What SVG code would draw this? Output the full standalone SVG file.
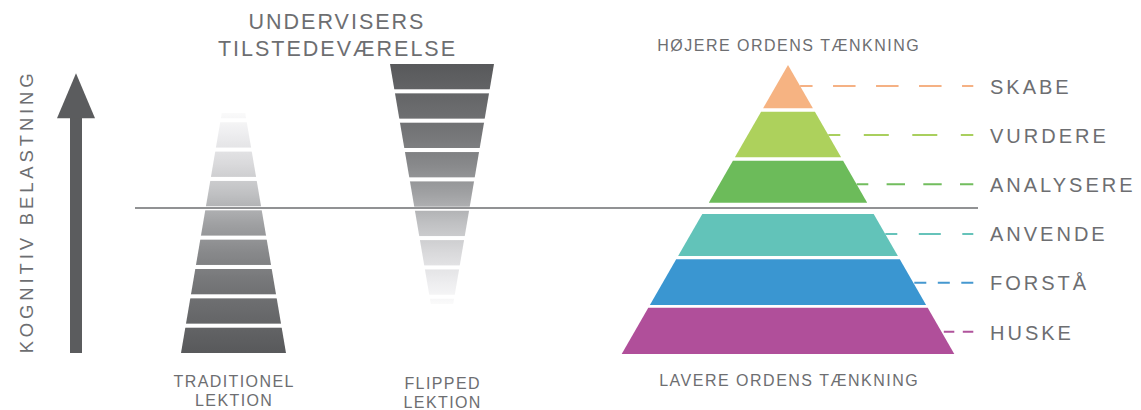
<svg xmlns="http://www.w3.org/2000/svg" width="1141" height="410" viewBox="0 0 1141 410">
  <style>
    text { font-family: "Liberation Sans", Arial, sans-serif; fill: #6d6e71; }
    .title { font-size: 21.5px; letter-spacing: 2px; text-anchor: middle; }
    .axis-label { font-size: 18.5px; letter-spacing: 3.85px; text-anchor: middle; }
    .cap { font-size: 16px; letter-spacing: 1.4px; text-anchor: middle; }
    .level { font-size: 20px; letter-spacing: 3px; }
    .dash { fill: none; stroke-width: 2; }
  </style>
  <defs>
    <!-- gray ramps: dark at the wide end, fading to white at the narrow end -->
    <linearGradient id="fadeUp" gradientUnits="userSpaceOnUse" x1="0" y1="353" x2="0" y2="113">
      <stop offset="0" stop-color="#58595b"/>
      <stop offset="0.175" stop-color="#696a6c"/>
      <stop offset="0.3" stop-color="#767779"/>
      <stop offset="0.42" stop-color="#88898b"/>
      <stop offset="0.54" stop-color="#a0a1a3"/>
      <stop offset="0.66" stop-color="#bfc0c2"/>
      <stop offset="0.79" stop-color="#dadadc"/>
      <stop offset="0.91" stop-color="#ededef"/>
      <stop offset="1" stop-color="#fafafa"/>
    </linearGradient>
    <linearGradient id="fadeDown" gradientUnits="userSpaceOnUse" x1="0" y1="64" x2="0" y2="304">
      <stop offset="0" stop-color="#58595b"/>
      <stop offset="0.175" stop-color="#696a6c"/>
      <stop offset="0.3" stop-color="#767779"/>
      <stop offset="0.42" stop-color="#88898b"/>
      <stop offset="0.54" stop-color="#a0a1a3"/>
      <stop offset="0.66" stop-color="#bfc0c2"/>
      <stop offset="0.79" stop-color="#dadadc"/>
      <stop offset="0.91" stop-color="#ededef"/>
      <stop offset="1" stop-color="#fafafa"/>
    </linearGradient>
    <clipPath id="tradShape">
      <polygon points="181,353 286,353 245.2,113 221.8,113"/>
    </clipPath>
    <clipPath id="flipShape">
      <polygon points="390,64 494,64 453.2,304 430.8,304"/>
    </clipPath>
  </defs>

  <rect width="1141" height="410" fill="#ffffff"/>

  <!-- vertical axis: cognitive load -->
  <g id="axis">
    <rect x="70" y="117" width="12" height="236" fill="#5b5c5e"/>
    <polygon points="57,118.3 76,73.3 95,118.3" fill="#5b5c5e"/>
    <text class="axis-label" transform="translate(33.3,213.3) rotate(-90)" x="1.9" y="0">KOGNITIV BELASTNING</text>
  </g>

  <!-- heading over the two lesson columns -->
  <g id="title">
    <text class="title" x="337" y="29.3">UNDERVISERS</text>
    <text class="title" x="337.5" y="55.8">TILSTEDEVÆRELSE</text>
  </g>

  <!-- traditional lesson: wide at the bottom -->
  <g id="traditional">
    <g clip-path="url(#tradShape)" fill="url(#fadeUp)">
      <rect x="181" y="327.7" width="105" height="25.3"/>
      <rect x="181" y="298.35" width="105" height="25.3"/>
      <rect x="181" y="269" width="105" height="25.3"/>
      <rect x="181" y="239.65" width="105" height="25.3"/>
      <rect x="181" y="210.3" width="105" height="25.3"/>
      <rect x="181" y="180.95" width="105" height="25.3"/>
      <rect x="181" y="151.6" width="105" height="25.3"/>
      <rect x="181" y="122.25" width="105" height="25.3"/>
      <rect x="181" y="113" width="105" height="5.2"/>
    </g>
    <text class="cap" x="234.2" y="386.7">TRADITIONEL</text>
    <text class="cap" x="234.2" y="405.5">LEKTION</text>
  </g>

  <!-- flipped lesson: wide at the top -->
  <g id="flipped">
    <g clip-path="url(#flipShape)" fill="url(#fadeDown)">
      <rect x="390" y="64" width="104" height="25.3"/>
      <rect x="390" y="93.35" width="104" height="25.3"/>
      <rect x="390" y="122.7" width="104" height="25.3"/>
      <rect x="390" y="152.05" width="104" height="25.3"/>
      <rect x="390" y="181.4" width="104" height="25.3"/>
      <rect x="390" y="210.75" width="104" height="25.3"/>
      <rect x="390" y="240.1" width="104" height="25.3"/>
      <rect x="390" y="269.45" width="104" height="25.3"/>
      <rect x="390" y="298.8" width="104" height="5.2"/>
    </g>
    <text class="cap" x="442.7" y="389">FLIPPED</text>
    <text class="cap" x="442.7" y="407.5">LEKTION</text>
  </g>

  <!-- Bloom levels: dashed leaders from each slice to its label -->
  <g id="connectors">
    <line class="dash" x1="973.3" y1="86" x2="800.1" y2="86" stroke="#f5b184" stroke-dasharray="22.5 20.5" stroke-dashoffset="11.25"/>
    <line class="dash" x1="973.3" y1="135" x2="828.3" y2="135" stroke="#a9cf5e" stroke-dasharray="25 23.5" stroke-dashoffset="12.5"/>
    <line class="dash" x1="973.3" y1="184.3" x2="856.7" y2="184.3" stroke="#72bd5e" stroke-dasharray="18.4 18.3" stroke-dashoffset="5.1"/>
    <line class="dash" x1="973.3" y1="234" x2="885.3" y2="234" stroke="#66c3ba" stroke-dasharray="22 21.5" stroke-dashoffset="11"/>
    <line class="dash" x1="973.3" y1="282.7" x2="913.3" y2="282.7" stroke="#4598d0" stroke-dasharray="12 11.5"/>
    <line class="dash" x1="973.3" y1="331.7" x2="941.5" y2="331.7" stroke="#b0539c" stroke-dasharray="10.5 8.5"/>
  </g>

  <g id="bloom-caption">
    <text class="cap" x="788.7" y="50.7" style="letter-spacing:1.5px">HØJERE ORDENS TÆNKNING</text>
    <text class="cap" x="789.2" y="386" style="letter-spacing:1.5px">LAVERE ORDENS TÆNKNING</text>
  </g>

  <g id="skabe">
    <polygon points="788,65 812.9,108.3 763.1,108.3" fill="#f6b382"/>
    <text class="level" x="990" y="93.5">SKABE</text>
  </g>
  <g id="vurdere">
    <polygon points="761.1,111.7 814.9,111.7 841.1,157.3 734.9,157.3" fill="#add15c"/>
    <text class="level" x="990" y="142.7">VURDERE</text>
  </g>
  <g id="analysere">
    <polygon points="732.9,160.7 843.1,160.7 867.2,202.7 708.8,202.7" fill="#6cbb5a"/>
    <text class="level" x="990" y="191.9">ANALYSERE</text>
  </g>
  <g id="anvende">
    <polygon points="702.3,214 873.7,214 897.9,256 678.1,256" fill="#62c3b9"/>
    <text class="level" x="990" y="241.1">ANVENDE</text>
  </g>
  <g id="forstaa">
    <polygon points="676.2,259.3 899.8,259.3 926.1,305 649.9,305" fill="#3a96d1"/>
    <text class="level" x="990" y="290.3">FORSTÅ</text>
  </g>
  <g id="huske">
    <polygon points="648.3,307.7 927.7,307.7 954.3,354 621.7,354" fill="#b04f9a"/>
    <text class="level" x="990" y="339.5">HUSKE</text>
  </g>

  <!-- threshold line across the whole figure -->
  <line id="threshold" x1="135" y1="208" x2="978" y2="208" stroke="#6d6e71" stroke-width="1.5"/>
</svg>
